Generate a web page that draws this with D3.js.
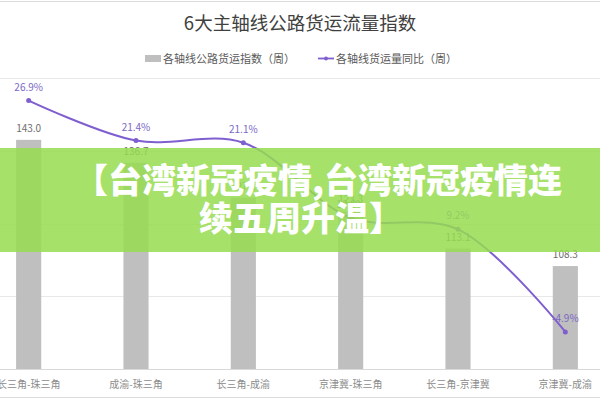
<!DOCTYPE html>
<html>
<head>
<meta charset="utf-8">
<script src="https://cdn.jsdelivr.net/npm/d3@7"></script>
<style>
  html, body { margin: 0; padding: 0; background: #fff; }
  svg { display: block; font-family: "Noto Sans CJK SC", "Noto Sans", sans-serif; }
</style>
</head>
<body>
<svg id="chart" width="600" height="400"></svg>
<script>
const categories = ["长三角-珠三角", "成渝-珠三角", "长三角-成渝", "京津冀-珠三角", "长三角-京津冀", "京津冀-成渝"];
const indexValues = [143.0, 136.7, 127.1, 123.3, 113.1, 108.3];
const yoyValues = [26.9, 21.4, 21.1, 10.8, 9.2, -4.9];
const yoyLabels = ["26.9%", "21.4%", "21.1%", "10.8%", "9.2%", "-4.9%"];
const indexTicks = [80, 100, 120, 140, 160];
const titleText = "6大主轴线公路货运流量指数";
const legendLabels = ["各轴线公路货运指数（周）", "各轴线货运量同比（周）"];
const overlayLines = ["【台湾新冠疫情,台湾新冠疫情连", "续五周升温】"];

const svg = d3.select("#chart");
const W = 600, H = 400;
const plotTop = 78, plotBottom = 369;

const x = d3.scaleBand().domain(categories).range([-25, 619]).paddingInner(0.766).paddingOuter(0.383);
const y = d3.scaleLinear().domain([80, 160]).range([plotBottom, plotTop]);
const y2 = d3.scaleLinear().domain([-10, 30]).range([plotBottom, plotTop]);

// frame lines
svg.append("line").attr("x1", 0).attr("x2", W).attr("y1", 1.5).attr("y2", 1.5).attr("stroke", "#dcdcdc");
svg.append("line").attr("x1", 0).attr("x2", W).attr("y1", 397.5).attr("y2", 397.5).attr("stroke", "#dcdcdc");

// title
svg.append("text").attr("x", 300).attr("y", 30).attr("text-anchor", "middle")
  .attr("font-size", 18.5).attr("fill", "#404040").text(titleText);

// legend
const lg = svg.append("g").attr("font-size", 11).attr("fill", "#595959");
lg.append("rect").attr("x", 145).attr("y", 55).attr("width", 16).attr("height", 7).attr("fill", "#bfbfbf");
lg.append("text").attr("x", 163).attr("y", 62.5).text(legendLabels[0]);
lg.append("line").attr("x1", 318).attr("x2", 334).attr("y1", 58.5).attr("y2", 58.5).attr("stroke", "#7f5fd0").attr("stroke-width", 1.8);
lg.append("circle").attr("cx", 326).attr("cy", 58.5).attr("r", 2).attr("fill", "#7f5fd0");
lg.append("text").attr("x", 336).attr("y", 62.5).text(legendLabels[1]);

// gridlines
svg.append("g").selectAll("line").data(indexTicks).join("line")
  .attr("x1", 0).attr("x2", W)
  .attr("y1", d => Math.round(y(d)) + 0.5).attr("y2", d => Math.round(y(d)) + 0.5)
  .attr("stroke", d => d === 80 ? "#d9d9d9" : "#e8e8e8");

// x axis labels
const xAxis = d3.axisBottom(x).tickSize(0).tickPadding(12);
const xg = svg.append("g").attr("transform", `translate(0,${plotBottom})`).call(xAxis);
xg.select(".domain").remove();
xg.selectAll("text").attr("font-size", 10).attr("fill", "#8c8c8c").attr("font-family", "\"Noto Sans CJK SC\", sans-serif");

// bars
svg.append("g").selectAll("rect").data(indexValues).join("rect")
  .attr("x", (d, i) => x(categories[i]))
  .attr("width", x.bandwidth())
  .attr("y", d => y(d))
  .attr("height", d => y(80) - y(d))
  .attr("fill", "#bfbfbf");

svg.append("g").selectAll("text").data(indexValues).join("text")
  .attr("x", (d, i) => x(categories[i]) + x.bandwidth() / 2)
  .attr("y", d => y(d) - 8)
  .attr("text-anchor", "middle").attr("font-size", 10).attr("fill", "#6e6e6e")
  .text(d => d.toFixed(1));

// line
const cx = i => x(categories[i]) + x.bandwidth() / 2;
const line = d3.line().x((d, i) => cx(i)).y(d => y2(d)).curve(d3.curveCatmullRom.alpha(0.5));
svg.append("path").datum(yoyValues).attr("d", line)
  .attr("fill", "none").attr("stroke", "#7f5fd0").attr("stroke-width", 2);
svg.append("g").selectAll("circle").data(yoyValues).join("circle")
  .attr("cx", (d, i) => cx(i)).attr("cy", d => y2(d)).attr("r", 2.5).attr("fill", "#7f5fd0");
svg.append("g").selectAll("text").data(yoyValues).join("text")
  .attr("x", (d, i) => cx(i)).attr("y", d => y2(d) - 10)
  .attr("text-anchor", "middle").attr("font-size", 10).attr("fill", "#7a68c4")
  .text((d, i) => yoyLabels[i]);

// overlay band
svg.append("rect").attr("x", 0).attr("y", 148).attr("width", W).attr("height", 104)
  .attr("fill", "rgb(150,220,80)").attr("fill-opacity", 0.85);
const ov = svg.append("g").attr("font-size", 34).attr("font-weight", 900).attr("fill", "#ffffff")
  .attr("text-anchor", "middle").attr("font-family", "\"Noto Sans CJK SC\", sans-serif");
ov.append("text").attr("x", 318).attr("y", 193).text(overlayLines[0]);
ov.append("text").attr("x", 301).attr("y", 231).text(overlayLines[1]);
</script>
</body>
</html>
